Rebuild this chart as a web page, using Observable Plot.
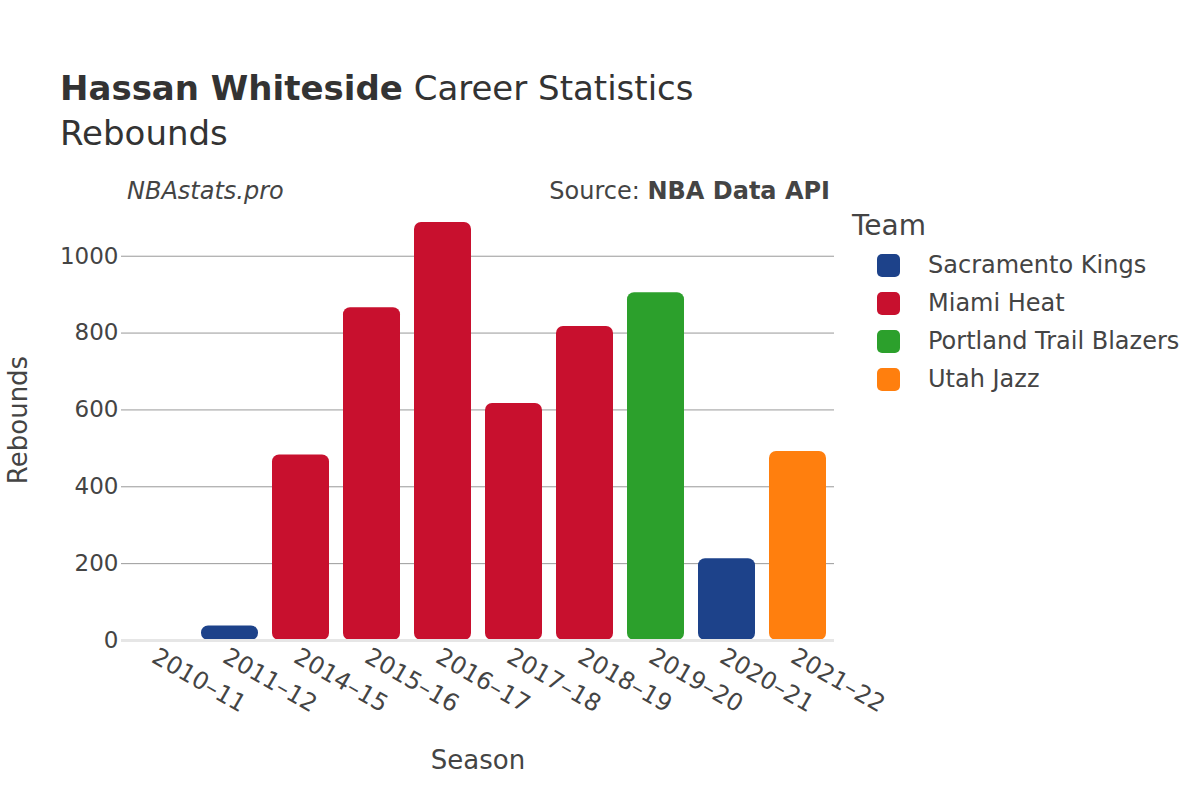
<!DOCTYPE html>
<html>
<head>
<meta charset="utf-8">
<script src="https://cdn.jsdelivr.net/npm/d3@7"></script>
<script src="https://cdn.jsdelivr.net/npm/@observablehq/plot@0.6"></script>
<style>
  body { margin: 0; background: #fff; font-family: "DejaVu Sans", sans-serif; color: #444; }
  #wrap { position: relative; width: 1200px; height: 800px; overflow: hidden; }
  .t { position: absolute; white-space: nowrap; color: #444; }
</style>
</head>
<body>
<div id="wrap">
  <div class="t" style="left:60px; top:68px; font-size:34px; color:#333;"><b>Hassan Whiteside</b> Career Statistics</div>
  <div class="t" style="left:60px; top:113px; font-size:34px; color:#333;">Rebounds</div>
  <div class="t" style="left:127px; top:177px; font-size:24px; font-style:italic;">NBAstats.pro</div>
  <div class="t" style="right:370px; top:177px; font-size:24px;">Source: <b>NBA Data API</b></div>
  <div class="t" style="left:852px; top:209px; font-size:28px;">Team</div>
  <div id="legend"></div>
  <div class="t" style="left:18px; top:420px; font-size:26px; transform: translate(-50%,-50%) rotate(-90deg);">Rebounds</div>
  <div class="t" style="left:478px; top:760px; font-size:26px; transform: translate(-50%,-50%);">Season</div>
  <div id="chart" style="position:absolute; left:0; top:0;"></div>
</div>
<script>
const seasons = ["2010–11","2011–12","2014–15","2015–16","2016–17","2017–18","2018–19","2019–20","2020–21","2021–22"];
const teams = ["Sacramento Kings","Sacramento Kings","Miami Heat","Miami Heat","Miami Heat","Miami Heat","Miami Heat","Portland Trail Blazers","Sacramento Kings","Utah Jazz"];
const rebounds = [1, 38, 483, 866, 1088, 617, 817, 905, 213, 492];
const teamNames = ["Sacramento Kings","Miami Heat","Portland Trail Blazers","Utah Jazz"];
const teamColors = ["#1d428a","#c8102e","#2ca02c","#ff7f0e"];
const yTicks = [0, 200, 400, 600, 800, 1000];

const data = seasons.map((s, i) => ({season: s, team: teams[i], reb: rebounds[i]}));

const chart = Plot.plot({
  width: 1200,
  height: 800,
  marginLeft: 121,
  marginRight: 366,
  marginTop: 200,
  marginBottom: 160,
  style: {fontFamily: "DejaVu Sans, sans-serif", fontSize: "23px", color: "#444", background: "transparent"},
  x: {domain: seasons, paddingInner: 0.2, paddingOuter: 0.1, label: null},
  y: {domain: [0, 1145], label: null},
  color: {domain: teamNames, range: teamColors},
  marks: [
    Plot.ruleY(yTicks.filter(d => d > 0), {stroke: "#999", strokeWidth: 1, strokeOpacity: 1}),
    Plot.barY(data, {x: "season", y: "reb", fill: "team", rx: 7}),
    Plot.ruleY([0], {stroke: "#e6e6e6", strokeWidth: 3}),
    Plot.axisY({ticks: yTicks, tickFormat: d3.format("d"), tickSize: 0, tickPadding: 3, label: null, fontSize: 23}),
    Plot.axisX({tickSize: 0, tickRotate: 30, tickPadding: 14, dx: -5, label: null, fontSize: 24})
  ]
});
document.getElementById("chart").appendChild(chart);

const legend = document.getElementById("legend");
teamNames.forEach((name, i) => {
  const y = 266 + i * 38;
  const sw = document.createElement("div");
  sw.style.cssText = `position:absolute; left:877px; top:${y - 12}px; width:23px; height:23px; border-radius:5px; background:${teamColors[i]};`;
  legend.appendChild(sw);
  const lab = document.createElement("div");
  lab.className = "t";
  lab.style.cssText += `left:928px; top:${y - 15}px; font-size:24px;`;
  lab.textContent = name;
  legend.appendChild(lab);
});
</script>
</body>
</html>
